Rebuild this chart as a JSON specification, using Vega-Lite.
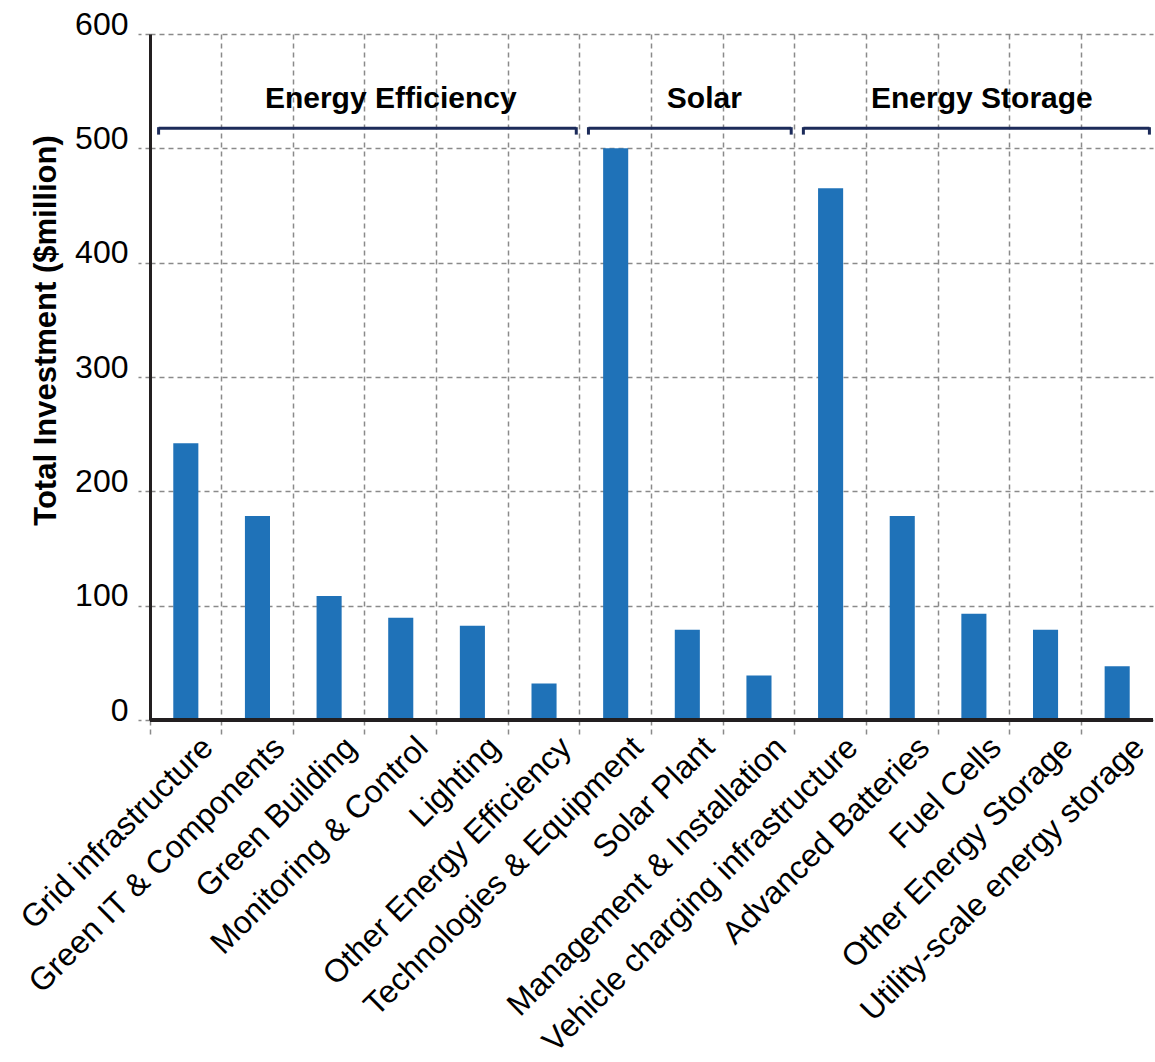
{
  "$schema": "https://vega.github.io/schema/vega-lite/v6.json",
  "width": 1003,
  "height": 686,
  "autosize": {"type": "none"},
  "padding": {"left": 150, "top": 34, "right": 2, "bottom": 342},
  "config": {"view": {"stroke": null}, "font": "Liberation Sans"},
  "datasets": {
    "bars": [
      {"category": "Grid infrastructure", "value": 242, "group": "Energy Efficiency"},
      {"category": "Green IT & Components", "value": 178.5, "group": "Energy Efficiency"},
      {"category": "Green Building", "value": 108.5, "group": "Energy Efficiency"},
      {"category": "Monitoring & Control", "value": 89.5, "group": "Energy Efficiency"},
      {"category": "Lighting", "value": 82.5, "group": "Energy Efficiency"},
      {"category": "Other Energy Efficiency", "value": 32, "group": "Energy Efficiency"},
      {"category": "Technologies & Equipment", "value": 500, "group": "Solar"},
      {"category": "Solar Plant", "value": 79, "group": "Solar"},
      {"category": "Management & Installation", "value": 39, "group": "Solar"},
      {"category": "Vehicle charging infrastructure", "value": 465, "group": "Energy Storage"},
      {"category": "Advanced Batteries", "value": 178.5, "group": "Energy Storage"},
      {"category": "Fuel Cells", "value": 93, "group": "Energy Storage"},
      {"category": "Other Energy Storage", "value": 79, "group": "Energy Storage"},
      {"category": "Utility-scale energy storage", "value": 47, "group": "Energy Storage"}
    ],
    "groups": [
      {"group": "Energy Efficiency", "first": "Grid infrastructure", "last": "Other Energy Efficiency", "mid": "Monitoring & Control"},
      {"group": "Solar", "first": "Technologies & Equipment", "last": "Management & Installation", "mid": "Solar Plant"},
      {"group": "Energy Storage", "first": "Vehicle charging infrastructure", "last": "Utility-scale energy storage", "mid": "Fuel Cells"}
    ]
  },
  "layer": [
    {
      "data": {"name": "bars"},
      "mark": {"type": "bar", "color": "#1f72b8", "width": {"band": 0.35}},
      "encoding": {
        "x": {
          "field": "category", "type": "nominal", "title": null,
          "scale": {"domain": ["Grid infrastructure", "Green IT & Components", "Green Building", "Monitoring & Control", "Lighting", "Other Energy Efficiency", "Technologies & Equipment", "Solar Plant", "Management & Installation", "Vehicle charging infrastructure", "Advanced Batteries", "Fuel Cells", "Other Energy Storage", "Utility-scale energy storage"], "paddingInner": 0, "paddingOuter": 0},
          "axis": {
            "bandPosition": 0, "labelOffset": 22,
            "labelAngle": -45, "labelAlign": "right", "labelBaseline": "middle",
            "labelFontSize": 32, "labelColor": "#000000", "labelPadding": 4, "labelLimit": 0, "labelOverlap": false,
            "tickSize": 18, "tickDash": [5, 4], "tickColor": "#8a8a8a", "tickWidth": 1.5,
            "grid": true, "gridDash": [5, 4], "gridColor": "#8a8a8a", "gridWidth": 1.5,
            "domain": false, "zindex": 0
          }
        },
        "y": {
          "field": "value", "type": "quantitative",
          "scale": {"domain": [0, 600], "nice": false},
          "axis": {
            "title": "Total Investment ($million)", "titleFontSize": 31, "titleFontWeight": "bold", "titleColor": "#000000",
            "titleAngle": -90, "titleX": -104, "titleY": 296, "titleAlign": "center", "titleBaseline": "middle",
            "values": [0, 100, 200, 300, 400, 500, 600],
            "labelFontSize": 32, "labelColor": "#000000", "labelBaseline": "alphabetic", "labelPadding": 10,
            "tickSize": 12, "tickDash": [5, 4], "tickColor": "#8a8a8a", "tickWidth": 1.5,
            "grid": true, "gridDash": [5, 4], "gridColor": "#8a8a8a", "gridWidth": 1.5,
            "domainColor": "#231f20", "domainWidth": 3, "zindex": 0
          }
        }
      }
    },
    {
      "data": {"name": "bars"},
      "mark": {"type": "rule", "color": "#231f20", "strokeWidth": 3},
      "encoding": {"y": {"datum": 0}}
    },
    {
      "data": {"name": "groups"},
      "mark": {"type": "rule", "color": "#1c2b5a", "strokeWidth": 3},
      "encoding": {
        "x": {"field": "first", "type": "nominal", "title": null, "bandPosition": 0.12},
        "x2": {"field": "last", "bandPosition": 0.95},
        "y": {"datum": 517.5}
      }
    },
    {
      "data": {"name": "groups"},
      "mark": {"type": "rule", "color": "#1c2b5a", "strokeWidth": 3},
      "encoding": {
        "x": {"field": "first", "type": "nominal", "title": null, "bandPosition": 0.12},
        "y": {"datum": 518.5},
        "y2": {"datum": 512}
      }
    },
    {
      "data": {"name": "groups"},
      "mark": {"type": "rule", "color": "#1c2b5a", "strokeWidth": 3},
      "encoding": {
        "x": {"field": "last", "type": "nominal", "title": null, "bandPosition": 0.95},
        "y": {"datum": 518.5},
        "y2": {"datum": 512}
      }
    },
    {
      "data": {"name": "groups"},
      "transform": [{"filter": "datum.group === 'Energy Efficiency'"}],
      "mark": {"type": "text", "fontSize": 30, "fontWeight": "bold", "color": "#000000", "baseline": "alphabetic", "align": "center", "dx": -10},
      "encoding": {
        "x": {"field": "mid", "type": "nominal", "title": null, "bandPosition": 0.5},
        "y": {"datum": 535.5},
        "text": {"field": "group"}
      }
    },
    {
      "data": {"name": "groups"},
      "transform": [{"filter": "datum.group === 'Solar'"}],
      "mark": {"type": "text", "fontSize": 30, "fontWeight": "bold", "color": "#000000", "baseline": "alphabetic", "align": "center", "dx": 17},
      "encoding": {
        "x": {"field": "mid", "type": "nominal", "title": null, "bandPosition": 0.5},
        "y": {"datum": 535.5},
        "text": {"field": "group"}
      }
    },
    {
      "data": {"name": "groups"},
      "transform": [{"filter": "datum.group === 'Energy Storage'"}],
      "mark": {"type": "text", "fontSize": 30, "fontWeight": "bold", "color": "#000000", "baseline": "alphabetic", "align": "center", "dx": 8},
      "encoding": {
        "x": {"field": "mid", "type": "nominal", "title": null, "bandPosition": 0.5},
        "y": {"datum": 535.5},
        "text": {"field": "group"}
      }
    }
  ]
}
